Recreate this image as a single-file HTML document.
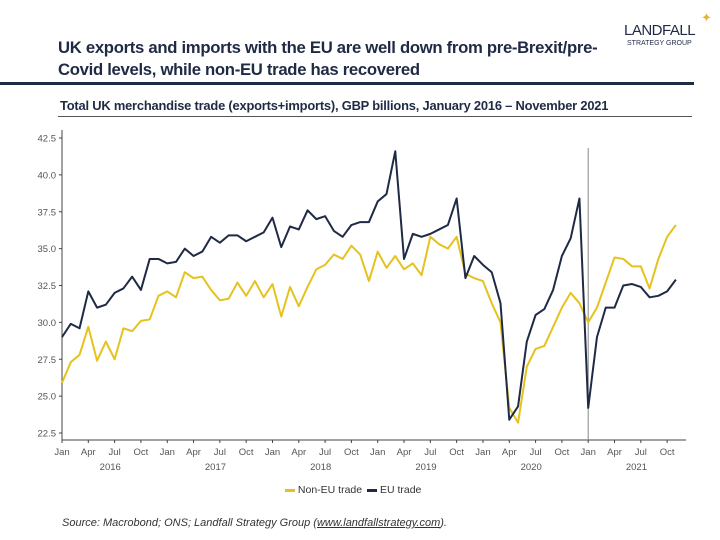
<!DOCTYPE html>
<html><head><meta charset="utf-8"><style>
body{margin:0;background:#fff;font-family:"Liberation Sans",sans-serif}
#wrap{position:relative;width:720px;height:540px;overflow:hidden}
.t{position:absolute;white-space:nowrap}
</style></head><body>
<div id="wrap">
<div class="t" style="left:58px;top:37px;font-size:16.7px;font-weight:bold;color:#1f2a44;line-height:22px;letter-spacing:-0.3px">UK exports and imports with the EU are well down from pre-Brexit/pre-<br>Covid levels, while non-EU trade has recovered</div>
<div style="position:absolute;left:0;top:82px;width:694px;height:3px;background:#1f2a44"></div>
<div class="t" style="left:624px;top:22px;font-size:15px;color:#1f2a44;letter-spacing:-0.5px">LANDFALL</div>
<div class="t" style="left:627px;top:40px;font-size:7px;color:#1f2a44">STRATEGY GROUP</div>
<div class="t" style="left:701px;top:10px;font-size:13px;color:#e0b73a">✦</div>
<div class="t" style="left:60px;top:98px;font-size:12.9px;font-weight:bold;color:#1f2a44;letter-spacing:-0.2px">Total UK merchandise trade (exports+imports), GBP billions, January 2016 – November 2021</div>
<div style="position:absolute;left:58px;top:116px;width:634px;height:1px;background:#555"></div>
<svg id="chart" width="720" height="540" style="position:absolute;left:0;top:0"></svg>
<div class="t" style="left:285px;top:484px;font-size:10.5px;color:#333">
<span><span style="display:inline-block;width:10px;height:3px;background:#e6c21e;vertical-align:middle"></span> Non-EU trade</span>
<span style="margin-left:2px"><span style="display:inline-block;width:10px;height:3px;background:#1f2a44;vertical-align:middle"></span> EU trade</span></div>
<div class="t" style="left:62px;top:517px;font-size:11px;font-style:italic;color:#333">Source: Macrobond; ONS; Landfall Strategy Group (<u>www.landfallstrategy.com</u>).</div>
</div>
<script>
const nonEU=[25.9,27.3,27.8,29.7,27.4,28.7,27.5,29.6,29.4,30.1,30.2,31.8,
32.1,31.7,33.4,33.0,33.1,32.2,31.5,31.6,32.7,31.8,32.8,31.7,
32.6,30.4,32.4,31.1,32.4,33.6,33.9,34.6,34.3,35.2,34.6,32.8,
34.8,33.7,34.5,33.6,34.0,33.2,35.8,35.3,35.0,35.8,33.3,33.0,
32.8,31.3,30.0,24.2,23.2,27.0,28.2,28.4,29.7,31.0,32.0,31.3,
30.0,31.0,32.7,34.4,34.3,33.8,33.8,32.3,34.3,35.8,36.6];
const eu=[29.0,29.9,29.6,32.1,31.0,31.2,32.0,32.3,33.1,32.2,34.3,34.3,
34.0,34.1,35.0,34.5,34.8,35.8,35.4,35.9,35.9,35.5,35.8,36.1,
37.1,35.1,36.5,36.3,37.6,37.0,37.2,36.2,35.8,36.6,36.8,36.8,
38.2,38.7,41.6,34.3,36.0,35.8,36.0,36.3,36.6,38.4,33.0,34.5,
33.9,33.4,31.3,23.4,24.3,28.7,30.5,30.9,32.2,34.5,35.7,38.4,
24.2,29.0,31.0,31.0,32.5,32.6,32.4,31.7,31.8,32.1,32.9];
const yTicks=[22.5,25.0,27.5,30.0,32.5,35.0,37.5,40.0,42.5];
const monthLabels=["Jan","Apr","Jul","Oct"];
const years=["2016","2017","2018","2019","2020","2021"];
const NS="http://www.w3.org/2000/svg";
const svg=document.getElementById('chart');
const x=i=>62+i*8.77;
const y=v=>433-(v-22.5)*14.75;
function mk(t,a){const e=document.createElementNS(NS,t);for(const k in a)e.setAttribute(k,a[k]);svg.appendChild(e);return e;}
let ax=mk('line',{x1:62,y1:130,x2:62,y2:440,stroke:'#444','stroke-width':1});


let bx=mk('line',{x1:62,y1:440,x2:686,y2:440,stroke:'#444','stroke-width':1});


yTicks.forEach(v=>{
 mk('line',{x1:59,y1:y(v),x2:62,y2:y(v),stroke:'#444'});
 let t=mk('text',{x:56,y:y(v)+3.5,'text-anchor':'end','font-size':9.5,fill:'#555','font-family':'Liberation Sans'});
 t.textContent=v.toFixed(1);
 
 
});
for(let i=0;i<72;i+=3){
 mk('line',{x1:x(i),y1:440,x2:x(i),y2:443,stroke:'#444'});
 let t=mk('text',{x:x(i),y:455,'text-anchor':'middle','font-size':9.5,fill:'#555','font-family':'Liberation Sans'});
 t.textContent=monthLabels[(i/3)%4];
 
 
}
years.forEach((yr,k)=>{
 let t=mk('text',{x:x(k*12+5.5),y:470,'text-anchor':'middle','font-size':9.5,fill:'#555','font-family':'Liberation Sans'});
 t.textContent=yr;
 
 
});
let vl=mk('line',{x1:x(60),y1:148,x2:x(60),y2:440,stroke:'#888','stroke-width':1});


function series(d,c,n){
 let p=mk('polyline',{points:d.map((v,i)=>x(i)+','+y(v)).join(' '),fill:'none',stroke:c,'stroke-width':2,'stroke-linejoin':'round'});
 
 
}
series(nonEU,'#e6c21e','non-eu-trade-line');
series(eu,'#1f2a44','eu-trade-line');
</script>
</body></html>
